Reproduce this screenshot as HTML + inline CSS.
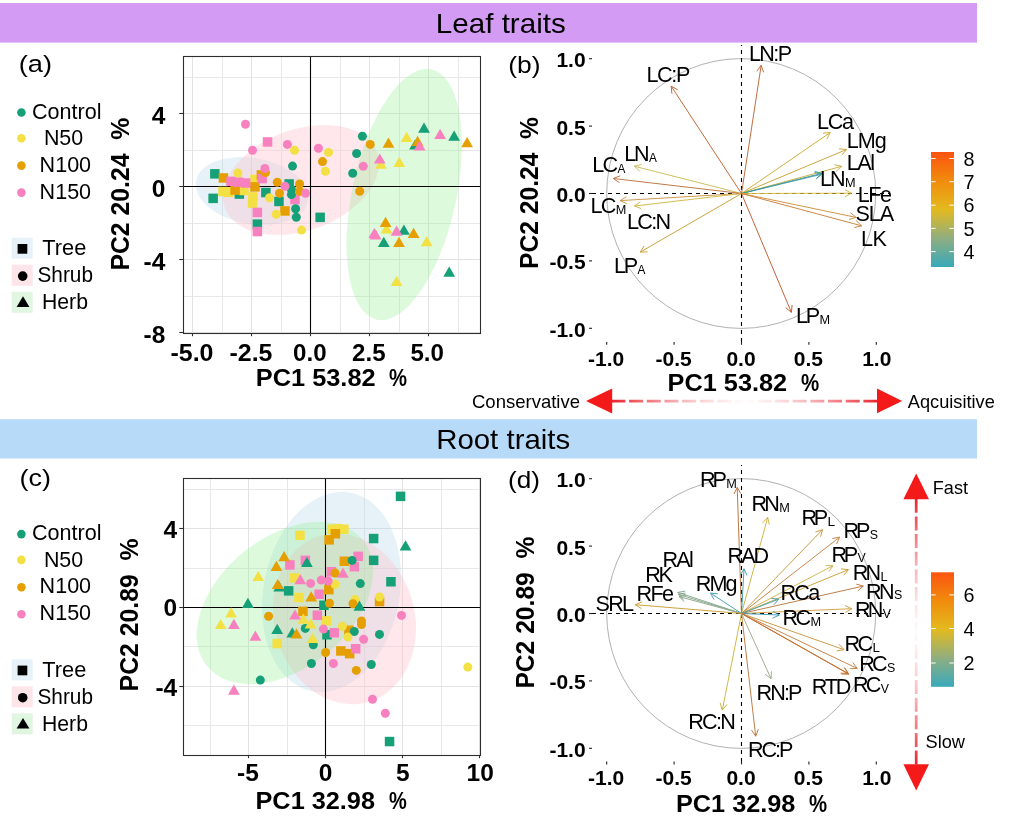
<!DOCTYPE html>
<html><head><meta charset="utf-8"><title>Leaf and root traits PCA</title>
<style>html,body{margin:0;padding:0;background:#fff;}svg{display:block;}text{font-family:"Liberation Sans",sans-serif;}</style>
</head><body>
<svg width="1013" height="821" viewBox="0 0 1013 821" style="will-change:transform">
<rect width="1013" height="821" fill="#fff"/>
<defs>
<linearGradient id="cbar" x1="0" y1="1" x2="0" y2="0"><stop offset="0" stop-color="#38A9BA"/><stop offset="0.25" stop-color="#8FAE80"/><stop offset="0.5" stop-color="#E3BA1F"/><stop offset="0.75" stop-color="#F08C0D"/><stop offset="1" stop-color="#FC5310"/></linearGradient>
<linearGradient id="hfade" x1="612" y1="0" x2="878.5" y2="0" gradientUnits="userSpaceOnUse"><stop offset="0" stop-color="#E8222C"/><stop offset="0.5" stop-color="#F6B0B4" stop-opacity="0.05"/><stop offset="1" stop-color="#E8222C"/></linearGradient>
<linearGradient id="vfade" x1="0" y1="499" x2="0" y2="764.5" gradientUnits="userSpaceOnUse"><stop offset="0" stop-color="#E8222C"/><stop offset="0.5" stop-color="#F6B0B4" stop-opacity="0.05"/><stop offset="1" stop-color="#E8222C"/></linearGradient>
</defs>
<rect x="0" y="3" width="977" height="39.6" fill="#D49BF4"/>
<text x="500.8" y="32.6" font-size="28.5" font-weight="normal" text-anchor="middle" fill="#000" textLength="130.0" lengthAdjust="spacingAndGlyphs" >Leaf traits</text>
<rect x="0" y="419.2" width="977" height="39.3" fill="#B7DAF9"/>
<text x="503.2" y="448.6" font-size="28.5" font-weight="normal" text-anchor="middle" fill="#000" textLength="134.0" lengthAdjust="spacingAndGlyphs" >Root traits</text>
<text x="18.8" y="72.4" font-size="24.5" font-weight="normal" text-anchor="start" fill="#000" textLength="33.3" lengthAdjust="spacingAndGlyphs" >(a)</text>
<circle cx="21.4" cy="112.5" r="4.3" fill="#16A077"/>
<text x="32.0" y="118.5" font-size="21.6" font-weight="normal" text-anchor="start" fill="#000" textLength="69.5" lengthAdjust="spacingAndGlyphs" >Control</text>
<circle cx="21.4" cy="138.3" r="4.3" fill="#F3E044"/>
<text x="43.9" y="145.3" font-size="21.6" font-weight="normal" text-anchor="start" fill="#000" textLength="39.3" lengthAdjust="spacingAndGlyphs" >N50</text>
<circle cx="21.4" cy="165.6" r="4.3" fill="#E69F00"/>
<text x="39.6" y="171.6" font-size="21.6" font-weight="normal" text-anchor="start" fill="#000" textLength="51.5" lengthAdjust="spacingAndGlyphs" >N100</text>
<circle cx="21.4" cy="192.6" r="4.3" fill="#F781BF"/>
<text x="39.6" y="198.6" font-size="21.6" font-weight="normal" text-anchor="start" fill="#000" textLength="51.5" lengthAdjust="spacingAndGlyphs" >N150</text>
<rect x="11.7" y="237.7" width="21" height="21" fill="#E6F2F8"/>
<rect x="17.6" y="244.0" width="9.7" height="9.7" fill="#000"/>
<text x="42.3" y="255.1" font-size="21.6" font-weight="normal" text-anchor="start" fill="#000" textLength="44.0" lengthAdjust="spacingAndGlyphs" >Tree</text>
<rect x="11.7" y="264.7" width="21" height="21" fill="#FDE5EA"/>
<circle cx="22.7" cy="276.1" r="4.8" fill="#000"/>
<text x="37.5" y="282.1" font-size="21.6" font-weight="normal" text-anchor="start" fill="#000" textLength="55.5" lengthAdjust="spacingAndGlyphs" >Shrub</text>
<rect x="11.7" y="291.8" width="21" height="21" fill="#E1F6E1"/>
<path d="M23.0 296.3L29.4 306.9L16.6 306.9Z" fill="#000"/>
<text x="42.0" y="309.2" font-size="21.6" font-weight="normal" text-anchor="start" fill="#000" textLength="46.0" lengthAdjust="spacingAndGlyphs" >Herb</text>
<clipPath id="clipA"><rect x="183.5" y="56.5" width="297.0" height="277.0"/></clipPath>
<rect x="183.5" y="56.5" width="297.0" height="277.0" fill="#fff"/>
<line x1="222.5" x2="222.5" y1="56.5" y2="333.5" stroke="#E8E8E8" stroke-width="1"/>
<line x1="281.5" x2="281.5" y1="56.5" y2="333.5" stroke="#E8E8E8" stroke-width="1"/>
<line x1="340.5" x2="340.5" y1="56.5" y2="333.5" stroke="#E8E8E8" stroke-width="1"/>
<line x1="399.5" x2="399.5" y1="56.5" y2="333.5" stroke="#E8E8E8" stroke-width="1"/>
<line x1="458.5" x2="458.5" y1="56.5" y2="333.5" stroke="#E8E8E8" stroke-width="1"/>
<line x1="183.5" x2="480.5" y1="77.5" y2="77.5" stroke="#E8E8E8" stroke-width="1"/>
<line x1="183.5" x2="480.5" y1="150.5" y2="150.5" stroke="#E8E8E8" stroke-width="1"/>
<line x1="183.5" x2="480.5" y1="223.5" y2="223.5" stroke="#E8E8E8" stroke-width="1"/>
<line x1="183.5" x2="480.5" y1="296.5" y2="296.5" stroke="#E8E8E8" stroke-width="1"/>
<line x1="192.5" x2="192.5" y1="56.5" y2="333.5" stroke="#E3E3E3" stroke-width="1"/>
<line x1="251.5" x2="251.5" y1="56.5" y2="333.5" stroke="#E3E3E3" stroke-width="1"/>
<line x1="310.5" x2="310.5" y1="56.5" y2="333.5" stroke="#E3E3E3" stroke-width="1"/>
<line x1="369.5" x2="369.5" y1="56.5" y2="333.5" stroke="#E3E3E3" stroke-width="1"/>
<line x1="428.5" x2="428.5" y1="56.5" y2="333.5" stroke="#E3E3E3" stroke-width="1"/>
<line x1="183.5" x2="480.5" y1="113.5" y2="113.5" stroke="#E3E3E3" stroke-width="1"/>
<line x1="183.5" x2="480.5" y1="186.5" y2="186.5" stroke="#E3E3E3" stroke-width="1"/>
<line x1="183.5" x2="480.5" y1="259.5" y2="259.5" stroke="#E3E3E3" stroke-width="1"/>
<line x1="183.5" x2="480.5" y1="332.5" y2="332.5" stroke="#E3E3E3" stroke-width="1"/>
<g clip-path="url(#clipA)">
<ellipse cx="252" cy="191" rx="57" ry="33" transform="rotate(10 252 191)" fill="rgba(173,212,232,0.30)"/>
<ellipse cx="301" cy="180" rx="81" ry="50.5" transform="rotate(-20 301 180)" fill="rgba(255,192,203,0.38)"/>
<ellipse cx="404.2" cy="194.5" rx="52" ry="128.1" transform="rotate(12.3 404.2 194.5)" fill="rgba(144,238,144,0.30)"/>
</g>
<line x1="183.5" x2="480.5" y1="186.5" y2="186.5" stroke="#000" stroke-width="1.1"/>
<line x1="310.5" x2="310.5" y1="56.5" y2="333.5" stroke="#000" stroke-width="1.1"/>
<rect x="210.1" y="169.1" width="9.5" height="9.5" fill="#16A077"/>
<rect x="234.6" y="189.3" width="9.5" height="9.5" fill="#16A077"/>
<rect x="208.4" y="193.6" width="9.5" height="9.5" fill="#16A077"/>
<rect x="261.1" y="187.8" width="9.5" height="9.5" fill="#16A077"/>
<rect x="284.4" y="179.2" width="9.5" height="9.5" fill="#16A077"/>
<rect x="274.2" y="196.7" width="9.5" height="9.5" fill="#16A077"/>
<rect x="252.6" y="219.4" width="9.5" height="9.5" fill="#16A077"/>
<rect x="315.4" y="212.6" width="9.5" height="9.5" fill="#16A077"/>
<rect x="250.2" y="174.8" width="9.5" height="9.5" fill="#F3E044"/>
<rect x="218.2" y="186.7" width="9.5" height="9.5" fill="#F3E044"/>
<rect x="223.7" y="187.6" width="9.5" height="9.5" fill="#F3E044"/>
<rect x="239.2" y="185.7" width="9.5" height="9.5" fill="#F3E044"/>
<rect x="248.2" y="192.1" width="9.5" height="9.5" fill="#F3E044"/>
<rect x="247.8" y="198.4" width="9.5" height="9.5" fill="#F3E044"/>
<rect x="218.7" y="173.2" width="9.5" height="9.5" fill="#E69F00"/>
<rect x="256.6" y="170.2" width="9.5" height="9.5" fill="#E69F00"/>
<rect x="250.2" y="182.1" width="9.5" height="9.5" fill="#E69F00"/>
<rect x="230.3" y="185.3" width="9.5" height="9.5" fill="#E69F00"/>
<rect x="280.2" y="206.2" width="9.5" height="9.5" fill="#E69F00"/>
<rect x="262.8" y="137.2" width="9.5" height="9.5" fill="#F781BF"/>
<rect x="257.4" y="173.8" width="9.5" height="9.5" fill="#F781BF"/>
<rect x="226.3" y="176.6" width="9.5" height="9.5" fill="#F781BF"/>
<rect x="233.7" y="177.4" width="9.5" height="9.5" fill="#F781BF"/>
<rect x="240.9" y="178.3" width="9.5" height="9.5" fill="#F781BF"/>
<rect x="290.2" y="194.8" width="9.5" height="9.5" fill="#F781BF"/>
<rect x="252.6" y="207.7" width="9.5" height="9.5" fill="#F781BF"/>
<rect x="252.6" y="226.8" width="9.5" height="9.5" fill="#F781BF"/>
<circle cx="292.5" cy="166.1" r="4.5" fill="#16A077"/>
<circle cx="291.4" cy="189.5" r="4.5" fill="#16A077"/>
<circle cx="291.4" cy="194.6" r="4.5" fill="#16A077"/>
<circle cx="295.6" cy="208.7" r="4.5" fill="#16A077"/>
<circle cx="296.3" cy="217.3" r="4.5" fill="#16A077"/>
<circle cx="362.4" cy="136.2" r="4.5" fill="#16A077"/>
<circle cx="356.6" cy="153.5" r="4.5" fill="#16A077"/>
<circle cx="352.7" cy="173.3" r="4.5" fill="#16A077"/>
<circle cx="294.5" cy="150.2" r="4.5" fill="#F3E044"/>
<circle cx="328.5" cy="152.4" r="4.5" fill="#F3E044"/>
<circle cx="325.4" cy="171.3" r="4.5" fill="#F3E044"/>
<circle cx="237.9" cy="173.1" r="4.5" fill="#F3E044"/>
<circle cx="269.5" cy="197.8" r="4.5" fill="#F3E044"/>
<circle cx="276.2" cy="214.2" r="4.5" fill="#F3E044"/>
<circle cx="301.5" cy="230.1" r="4.5" fill="#F3E044"/>
<circle cx="322.5" cy="161.6" r="4.5" fill="#E69F00"/>
<circle cx="265.5" cy="172.6" r="4.5" fill="#E69F00"/>
<circle cx="277.3" cy="182.2" r="4.5" fill="#E69F00"/>
<circle cx="279.5" cy="193.2" r="4.5" fill="#E69F00"/>
<circle cx="299.6" cy="184.0" r="4.5" fill="#E69F00"/>
<circle cx="299.6" cy="191.4" r="4.5" fill="#E69F00"/>
<circle cx="370.3" cy="144.4" r="4.5" fill="#E69F00"/>
<circle cx="359.7" cy="191.2" r="4.5" fill="#E69F00"/>
<circle cx="245.5" cy="124.3" r="4.5" fill="#F781BF"/>
<circle cx="287.4" cy="144.4" r="4.5" fill="#F781BF"/>
<circle cx="252.5" cy="150.2" r="4.5" fill="#F781BF"/>
<circle cx="318.4" cy="148.2" r="4.5" fill="#F781BF"/>
<circle cx="264.9" cy="168.5" r="4.5" fill="#F781BF"/>
<circle cx="285.0" cy="186.2" r="4.5" fill="#F781BF"/>
<circle cx="305.5" cy="193.2" r="4.5" fill="#F781BF"/>
<circle cx="363.3" cy="166.3" r="4.5" fill="#F781BF"/>
<path d="M415.1 139.4L421.0 149.6L409.2 149.6Z" fill="#16A077"/>
<path d="M424.0 122.6L429.9 132.8L418.1 132.8Z" fill="#16A077"/>
<path d="M454.1 130.6L460.0 140.8L448.2 140.8Z" fill="#16A077"/>
<path d="M403.9 224.6L409.8 234.8L398.0 234.8Z" fill="#16A077"/>
<path d="M383.8 236.8L389.7 247.0L377.9 247.0Z" fill="#16A077"/>
<path d="M449.2 266.6L455.1 276.8L443.3 276.8Z" fill="#16A077"/>
<path d="M406.6 131.7L412.5 141.9L400.7 141.9Z" fill="#F3E044"/>
<path d="M381.0 158.5L386.9 168.7L375.1 168.7Z" fill="#F3E044"/>
<path d="M399.3 156.7L405.2 166.9L393.4 166.9Z" fill="#F3E044"/>
<path d="M386.5 223.3L392.4 233.5L380.6 233.5Z" fill="#F3E044"/>
<path d="M426.7 236.1L432.6 246.3L420.8 246.3Z" fill="#F3E044"/>
<path d="M396.6 275.8L402.5 286.0L390.7 286.0Z" fill="#F3E044"/>
<path d="M388.5 137.5L394.4 147.7L382.6 147.7Z" fill="#E69F00"/>
<path d="M417.6 135.7L423.5 145.9L411.7 145.9Z" fill="#E69F00"/>
<path d="M467.1 137.0L473.0 147.2L461.2 147.2Z" fill="#E69F00"/>
<path d="M385.6 216.7L391.5 226.9L379.7 226.9Z" fill="#E69F00"/>
<path d="M413.6 227.7L419.5 237.9L407.7 237.9Z" fill="#E69F00"/>
<path d="M399.0 236.8L404.9 247.0L393.1 247.0Z" fill="#E69F00"/>
<path d="M419.6 140.3L425.5 150.5L413.7 150.5Z" fill="#F781BF"/>
<path d="M440.1 128.8L446.0 139.0L434.2 139.0Z" fill="#F781BF"/>
<path d="M379.8 153.4L385.7 163.6L373.9 163.6Z" fill="#F781BF"/>
<path d="M374.3 227.9L380.2 238.1L368.4 238.1Z" fill="#F781BF"/>
<path d="M375.6 229.2L381.5 239.4L369.7 239.4Z" fill="#F781BF"/>
<path d="M396.6 225.5L402.5 235.7L390.7 235.7Z" fill="#F781BF"/>
<rect x="183.5" y="56.5" width="297.0" height="277.0" fill="none" stroke="#2E2E2E" stroke-width="1.1"/>
<line x1="192.5" x2="192.5" y1="333.5" y2="336.2" stroke="#2E2E2E" stroke-width="1.1"/>
<line x1="251.5" x2="251.5" y1="333.5" y2="336.2" stroke="#2E2E2E" stroke-width="1.1"/>
<line x1="310.5" x2="310.5" y1="333.5" y2="336.2" stroke="#2E2E2E" stroke-width="1.1"/>
<line x1="369.5" x2="369.5" y1="333.5" y2="336.2" stroke="#2E2E2E" stroke-width="1.1"/>
<line x1="428.5" x2="428.5" y1="333.5" y2="336.2" stroke="#2E2E2E" stroke-width="1.1"/>
<line x1="179.3" x2="183.5" y1="113.5" y2="113.5" stroke="#2E2E2E" stroke-width="1.1"/>
<line x1="179.3" x2="183.5" y1="186.5" y2="186.5" stroke="#2E2E2E" stroke-width="1.1"/>
<line x1="179.3" x2="183.5" y1="259.5" y2="259.5" stroke="#2E2E2E" stroke-width="1.1"/>
<line x1="179.3" x2="183.5" y1="332.5" y2="332.5" stroke="#2E2E2E" stroke-width="1.1"/>
<text x="165.3" y="123.5" font-size="24.5" font-weight="bold" text-anchor="end" fill="#000" >4</text>
<text x="165.3" y="197.0" font-size="24.5" font-weight="bold" text-anchor="end" fill="#000" >0</text>
<text x="165.3" y="270.0" font-size="24.5" font-weight="bold" text-anchor="end" fill="#000" >-4</text>
<text x="165.3" y="342.9" font-size="24.5" font-weight="bold" text-anchor="end" fill="#000" >-8</text>
<text x="192.0" y="360.8" font-size="24.5" font-weight="bold" text-anchor="middle" fill="#000" textLength="43.0" lengthAdjust="spacingAndGlyphs" >-5.0</text>
<text x="251.0" y="360.8" font-size="24.5" font-weight="bold" text-anchor="middle" fill="#000" textLength="43.0" lengthAdjust="spacingAndGlyphs" >-2.5</text>
<text x="309.8" y="360.8" font-size="24.5" font-weight="bold" text-anchor="middle" fill="#000" textLength="33.5" lengthAdjust="spacingAndGlyphs" >0.0</text>
<text x="368.8" y="360.8" font-size="24.5" font-weight="bold" text-anchor="middle" fill="#000" textLength="33.5" lengthAdjust="spacingAndGlyphs" >2.5</text>
<text x="427.2" y="360.8" font-size="24.5" font-weight="bold" text-anchor="middle" fill="#000" textLength="33.5" lengthAdjust="spacingAndGlyphs" >5.0</text>
<text x="255.8" y="385.7" font-size="24.5" font-weight="bold" text-anchor="start" fill="#000" textLength="119.8" lengthAdjust="spacingAndGlyphs" >PC1 53.82</text>
<text x="389.0" y="385.7" font-size="24.5" font-weight="bold" text-anchor="start" fill="#000" textLength="18.0" lengthAdjust="spacingAndGlyphs" >%</text>
<text transform="translate(128.8,270.6) rotate(-90)" font-size="25.8" font-weight="bold" textLength="153.0" lengthAdjust="spacingAndGlyphs">PC2 20.24&#160;&#160;%</text>
<text x="19.4" y="486.4" font-size="24.5" font-weight="normal" text-anchor="start" fill="#000" textLength="31.5" lengthAdjust="spacingAndGlyphs" >(c)</text>
<circle cx="21.4" cy="534.1" r="4.3" fill="#16A077"/>
<text x="32.0" y="540.1" font-size="21.6" font-weight="normal" text-anchor="start" fill="#000" textLength="69.5" lengthAdjust="spacingAndGlyphs" >Control</text>
<circle cx="21.4" cy="559.9" r="4.3" fill="#F3E044"/>
<text x="43.9" y="566.9" font-size="21.6" font-weight="normal" text-anchor="start" fill="#000" textLength="39.3" lengthAdjust="spacingAndGlyphs" >N50</text>
<circle cx="21.4" cy="587.2" r="4.3" fill="#E69F00"/>
<text x="39.6" y="593.2" font-size="21.6" font-weight="normal" text-anchor="start" fill="#000" textLength="51.5" lengthAdjust="spacingAndGlyphs" >N100</text>
<circle cx="21.4" cy="614.2" r="4.3" fill="#F781BF"/>
<text x="39.6" y="620.2" font-size="21.6" font-weight="normal" text-anchor="start" fill="#000" textLength="51.5" lengthAdjust="spacingAndGlyphs" >N150</text>
<rect x="11.7" y="659.3" width="21" height="21" fill="#E6F2F8"/>
<rect x="17.6" y="665.6" width="9.7" height="9.7" fill="#000"/>
<text x="42.3" y="676.7" font-size="21.6" font-weight="normal" text-anchor="start" fill="#000" textLength="44.0" lengthAdjust="spacingAndGlyphs" >Tree</text>
<rect x="11.7" y="686.3" width="21" height="21" fill="#FDE5EA"/>
<circle cx="22.7" cy="697.7" r="4.8" fill="#000"/>
<text x="37.5" y="703.7" font-size="21.6" font-weight="normal" text-anchor="start" fill="#000" textLength="55.5" lengthAdjust="spacingAndGlyphs" >Shrub</text>
<rect x="11.7" y="713.4" width="21" height="21" fill="#E1F6E1"/>
<path d="M23.0 717.9L29.4 728.5L16.6 728.5Z" fill="#000"/>
<text x="42.0" y="730.8" font-size="21.6" font-weight="normal" text-anchor="start" fill="#000" textLength="46.0" lengthAdjust="spacingAndGlyphs" >Herb</text>
<clipPath id="clipC"><rect x="183.5" y="478.5" width="297.0" height="277.0"/></clipPath>
<rect x="183.5" y="478.5" width="297.0" height="277.0" fill="#fff"/>
<line x1="210.5" x2="210.5" y1="478.5" y2="755.5" stroke="#E8E8E8" stroke-width="1"/>
<line x1="287.5" x2="287.5" y1="478.5" y2="755.5" stroke="#E8E8E8" stroke-width="1"/>
<line x1="364.5" x2="364.5" y1="478.5" y2="755.5" stroke="#E8E8E8" stroke-width="1"/>
<line x1="441.5" x2="441.5" y1="478.5" y2="755.5" stroke="#E8E8E8" stroke-width="1"/>
<line x1="183.5" x2="480.5" y1="489.5" y2="489.5" stroke="#E8E8E8" stroke-width="1"/>
<line x1="183.5" x2="480.5" y1="568.5" y2="568.5" stroke="#E8E8E8" stroke-width="1"/>
<line x1="183.5" x2="480.5" y1="646.5" y2="646.5" stroke="#E8E8E8" stroke-width="1"/>
<line x1="183.5" x2="480.5" y1="725.5" y2="725.5" stroke="#E8E8E8" stroke-width="1"/>
<line x1="248.5" x2="248.5" y1="478.5" y2="755.5" stroke="#E3E3E3" stroke-width="1"/>
<line x1="325.5" x2="325.5" y1="478.5" y2="755.5" stroke="#E3E3E3" stroke-width="1"/>
<line x1="402.5" x2="402.5" y1="478.5" y2="755.5" stroke="#E3E3E3" stroke-width="1"/>
<line x1="479.5" x2="479.5" y1="478.5" y2="755.5" stroke="#E3E3E3" stroke-width="1"/>
<line x1="183.5" x2="480.5" y1="528.5" y2="528.5" stroke="#E3E3E3" stroke-width="1"/>
<line x1="183.5" x2="480.5" y1="607.5" y2="607.5" stroke="#E3E3E3" stroke-width="1"/>
<line x1="183.5" x2="480.5" y1="686.5" y2="686.5" stroke="#E3E3E3" stroke-width="1"/>
<g clip-path="url(#clipC)">
<ellipse cx="331.5" cy="592.0" rx="68" ry="101.2" transform="rotate(11 331.5 592.0)" fill="rgba(173,212,232,0.30)"/>
<ellipse cx="344.4" cy="618.9" rx="70.2" ry="86.5" transform="rotate(-16 344.4 618.9)" fill="rgba(255,192,203,0.38)"/>
<ellipse cx="284.9" cy="603" rx="100.3" ry="65.6" transform="rotate(-39 284.9 603)" fill="rgba(144,238,144,0.30)"/>
</g>
<line x1="183.5" x2="480.5" y1="607.5" y2="607.5" stroke="#000" stroke-width="1.1"/>
<line x1="325.5" x2="325.5" y1="478.5" y2="755.5" stroke="#000" stroke-width="1.1"/>
<rect x="283.9" y="586.1" width="9.5" height="9.5" fill="#16A077"/>
<rect x="319.2" y="600.5" width="9.5" height="9.5" fill="#16A077"/>
<rect x="395.8" y="491.6" width="9.5" height="9.5" fill="#16A077"/>
<rect x="368.9" y="533.8" width="9.5" height="9.5" fill="#16A077"/>
<rect x="368.9" y="555.6" width="9.5" height="9.5" fill="#16A077"/>
<rect x="386.2" y="577.0" width="9.5" height="9.5" fill="#16A077"/>
<rect x="322.2" y="630.0" width="9.5" height="9.5" fill="#16A077"/>
<rect x="384.8" y="736.8" width="9.5" height="9.5" fill="#16A077"/>
<rect x="295.2" y="530.6" width="9.5" height="9.5" fill="#F3E044"/>
<rect x="327.6" y="524.5" width="9.5" height="9.5" fill="#F3E044"/>
<rect x="339.1" y="524.5" width="9.5" height="9.5" fill="#F3E044"/>
<rect x="333.2" y="523.9" width="9.5" height="9.5" fill="#F3E044"/>
<rect x="289.6" y="573.2" width="9.5" height="9.5" fill="#F3E044"/>
<rect x="294.2" y="592.8" width="9.5" height="9.5" fill="#F3E044"/>
<rect x="321.6" y="616.1" width="9.5" height="9.5" fill="#F3E044"/>
<rect x="272.4" y="638.8" width="9.5" height="9.5" fill="#F3E044"/>
<rect x="324.4" y="535.1" width="9.5" height="9.5" fill="#E69F00"/>
<rect x="330.6" y="529.0" width="9.5" height="9.5" fill="#E69F00"/>
<rect x="324.1" y="584.9" width="9.5" height="9.5" fill="#E69F00"/>
<rect x="298.2" y="606.6" width="9.5" height="9.5" fill="#E69F00"/>
<rect x="339.6" y="556.5" width="9.5" height="9.5" fill="#E69F00"/>
<rect x="374.8" y="596.8" width="9.5" height="9.5" fill="#E69F00"/>
<rect x="336.1" y="646.2" width="9.5" height="9.5" fill="#E69F00"/>
<rect x="344.2" y="625.5" width="9.5" height="9.5" fill="#E69F00"/>
<rect x="344.9" y="648.9" width="9.5" height="9.5" fill="#E69F00"/>
<rect x="285.2" y="560.2" width="9.5" height="9.5" fill="#F781BF"/>
<rect x="300.6" y="555.6" width="9.5" height="9.5" fill="#F781BF"/>
<rect x="326.6" y="567.0" width="9.5" height="9.5" fill="#F781BF"/>
<rect x="314.4" y="589.5" width="9.5" height="9.5" fill="#F781BF"/>
<rect x="312.6" y="610.5" width="9.5" height="9.5" fill="#F781BF"/>
<rect x="353.4" y="551.6" width="9.5" height="9.5" fill="#F781BF"/>
<rect x="349.6" y="562.0" width="9.5" height="9.5" fill="#F781BF"/>
<rect x="329.6" y="628.0" width="9.5" height="9.5" fill="#F781BF"/>
<rect x="350.9" y="644.0" width="9.5" height="9.5" fill="#F781BF"/>
<circle cx="352.1" cy="560.4" r="4.5" fill="#16A077"/>
<circle cx="360.3" cy="583.6" r="4.5" fill="#16A077"/>
<circle cx="305.3" cy="628.4" r="4.5" fill="#16A077"/>
<circle cx="313.3" cy="644.8" r="4.5" fill="#16A077"/>
<circle cx="311.4" cy="663.5" r="4.5" fill="#16A077"/>
<circle cx="260.3" cy="680.1" r="4.5" fill="#16A077"/>
<circle cx="379.5" cy="634.4" r="4.5" fill="#16A077"/>
<circle cx="354.3" cy="631.5" r="4.5" fill="#16A077"/>
<circle cx="371.3" cy="664.5" r="4.5" fill="#16A077"/>
<circle cx="335.0" cy="584.3" r="4.5" fill="#F3E044"/>
<circle cx="354.9" cy="599.4" r="4.5" fill="#F3E044"/>
<circle cx="379.5" cy="597.0" r="4.5" fill="#F3E044"/>
<circle cx="342.4" cy="626.2" r="4.5" fill="#F3E044"/>
<circle cx="347.9" cy="637.1" r="4.5" fill="#F3E044"/>
<circle cx="467.8" cy="667.1" r="4.5" fill="#F3E044"/>
<circle cx="335.0" cy="573.0" r="4.5" fill="#E69F00"/>
<circle cx="329.5" cy="603.3" r="4.5" fill="#E69F00"/>
<circle cx="268.6" cy="616.3" r="4.5" fill="#E69F00"/>
<circle cx="353.0" cy="603.8" r="4.5" fill="#E69F00"/>
<circle cx="361.5" cy="621.0" r="4.5" fill="#E69F00"/>
<circle cx="361.5" cy="624.5" r="4.5" fill="#E69F00"/>
<circle cx="325.6" cy="652.5" r="4.5" fill="#E69F00"/>
<circle cx="356.3" cy="670.4" r="4.5" fill="#E69F00"/>
<circle cx="310.6" cy="583.4" r="4.5" fill="#F781BF"/>
<circle cx="321.2" cy="580.1" r="4.5" fill="#F781BF"/>
<circle cx="328.2" cy="581.0" r="4.5" fill="#F781BF"/>
<circle cx="401.5" cy="615.4" r="4.5" fill="#F781BF"/>
<circle cx="323.4" cy="629.1" r="4.5" fill="#F781BF"/>
<circle cx="333.4" cy="663.5" r="4.5" fill="#F781BF"/>
<circle cx="363.6" cy="639.3" r="4.5" fill="#F781BF"/>
<circle cx="372.5" cy="699.3" r="4.5" fill="#F781BF"/>
<circle cx="385.3" cy="713.3" r="4.5" fill="#F781BF"/>
<path d="M306.9 556.8L312.8 567.0L301.0 567.0Z" fill="#16A077"/>
<path d="M279.2 581.3L285.1 591.5L273.3 591.5Z" fill="#16A077"/>
<path d="M247.9 597.7L253.8 607.9L242.0 607.9Z" fill="#16A077"/>
<path d="M405.5 540.2L411.4 550.4L399.6 550.4Z" fill="#16A077"/>
<path d="M359.4 600.5L365.3 610.7L353.5 610.7Z" fill="#16A077"/>
<path d="M277.2 623.7L283.1 633.9L271.3 633.9Z" fill="#16A077"/>
<path d="M292.3 627.3L298.2 637.5L286.4 637.5Z" fill="#16A077"/>
<path d="M258.2 570.9L264.1 581.1L252.3 581.1Z" fill="#F3E044"/>
<path d="M231.1 607.2L237.0 617.4L225.2 617.4Z" fill="#F3E044"/>
<path d="M220.7 618.9L226.6 629.1L214.8 629.1Z" fill="#F3E044"/>
<path d="M303.3 613.6L309.2 623.8L297.4 623.8Z" fill="#F3E044"/>
<path d="M310.6 618.2L316.5 628.4L304.7 628.4Z" fill="#F3E044"/>
<path d="M312.6 632.8L318.5 643.0L306.7 643.0Z" fill="#F3E044"/>
<path d="M284.1 551.1L290.0 561.3L278.2 561.3Z" fill="#E69F00"/>
<path d="M276.4 560.8L282.3 571.0L270.5 571.0Z" fill="#E69F00"/>
<path d="M277.7 578.9L283.6 589.1L271.8 589.1Z" fill="#E69F00"/>
<path d="M311.2 591.3L317.1 601.5L305.3 601.5Z" fill="#E69F00"/>
<path d="M296.5 628.3L302.4 638.5L290.6 638.5Z" fill="#E69F00"/>
<path d="M300.3 574.0L306.2 584.2L294.4 584.2Z" fill="#F781BF"/>
<path d="M295.0 609.4L300.9 619.6L289.1 619.6Z" fill="#F781BF"/>
<path d="M233.9 618.8L239.8 629.0L228.0 629.0Z" fill="#F781BF"/>
<path d="M343.0 567.6L348.9 577.8L337.1 577.8Z" fill="#F781BF"/>
<path d="M233.9 684.5L239.8 694.7L228.0 694.7Z" fill="#F781BF"/>
<path d="M255.4 630.6L261.3 640.8L249.5 640.8Z" fill="#F781BF"/>
<rect x="183.5" y="478.5" width="297.0" height="277.0" fill="none" stroke="#2E2E2E" stroke-width="1.1"/>
<line x1="248.5" x2="248.5" y1="755.5" y2="758.2" stroke="#2E2E2E" stroke-width="1.1"/>
<line x1="325.5" x2="325.5" y1="755.5" y2="758.2" stroke="#2E2E2E" stroke-width="1.1"/>
<line x1="402.5" x2="402.5" y1="755.5" y2="758.2" stroke="#2E2E2E" stroke-width="1.1"/>
<line x1="479.5" x2="479.5" y1="755.5" y2="758.2" stroke="#2E2E2E" stroke-width="1.1"/>
<line x1="179.3" x2="183.5" y1="528.5" y2="528.5" stroke="#2E2E2E" stroke-width="1.1"/>
<line x1="179.3" x2="183.5" y1="607.5" y2="607.5" stroke="#2E2E2E" stroke-width="1.1"/>
<line x1="179.3" x2="183.5" y1="686.5" y2="686.5" stroke="#2E2E2E" stroke-width="1.1"/>
<text x="177.2" y="537.7" font-size="24.5" font-weight="bold" text-anchor="end" fill="#000" >4</text>
<text x="177.2" y="615.6" font-size="24.5" font-weight="bold" text-anchor="end" fill="#000" >0</text>
<text x="177.2" y="695.6" font-size="24.5" font-weight="bold" text-anchor="end" fill="#000" >-4</text>
<text x="248.0" y="781.0" font-size="24.5" font-weight="bold" text-anchor="middle" fill="#000" >-5</text>
<text x="325.6" y="781.0" font-size="24.5" font-weight="bold" text-anchor="middle" fill="#000" >0</text>
<text x="402.8" y="781.0" font-size="24.5" font-weight="bold" text-anchor="middle" fill="#000" >5</text>
<text x="480.2" y="781.0" font-size="24.5" font-weight="bold" text-anchor="middle" fill="#000" >10</text>
<text x="255.5" y="809.0" font-size="24.5" font-weight="bold" text-anchor="start" fill="#000" textLength="119.5" lengthAdjust="spacingAndGlyphs" >PC1 32.98</text>
<text x="389.0" y="809.0" font-size="24.5" font-weight="bold" text-anchor="start" fill="#000" textLength="17.8" lengthAdjust="spacingAndGlyphs" >%</text>
<text transform="translate(138.0,691.4) rotate(-90)" font-size="25.8" font-weight="bold" textLength="153.0" lengthAdjust="spacingAndGlyphs">PC2 20.89&#160;&#160;%</text>
<text x="508.2" y="72.7" font-size="24.5" font-weight="normal" text-anchor="start" fill="#000" textLength="32.3" lengthAdjust="spacingAndGlyphs" >(b)</text>
<ellipse cx="741.2" cy="193.5" rx="134.5" ry="134.9" fill="none" stroke="#B2B2B2" stroke-width="1"/>
<line x1="592" x2="890" y1="193.5" y2="193.5" stroke="#000" stroke-width="1.1" stroke-dasharray="4 4"/>
<line x1="741.5" x2="741.5" y1="342" y2="45" stroke="#000" stroke-width="1.1" stroke-dasharray="4 4"/>
<line x1="589.0" x2="592.0" y1="58.7" y2="58.7" stroke="#222" stroke-width="1.1"/>
<text x="585.6" y="67.1" font-size="21" font-weight="bold" text-anchor="end" fill="#000" >1.0</text>
<line x1="589.0" x2="592.0" y1="126.1" y2="126.1" stroke="#222" stroke-width="1.1"/>
<text x="585.6" y="134.5" font-size="21" font-weight="bold" text-anchor="end" fill="#000" >0.5</text>
<line x1="589.0" x2="592.0" y1="193.5" y2="193.5" stroke="#222" stroke-width="1.1"/>
<text x="585.6" y="201.9" font-size="21" font-weight="bold" text-anchor="end" fill="#000" >0.0</text>
<line x1="589.0" x2="592.0" y1="260.9" y2="260.9" stroke="#222" stroke-width="1.1"/>
<text x="585.6" y="269.3" font-size="21" font-weight="bold" text-anchor="end" fill="#000" >-0.5</text>
<line x1="589.0" x2="592.0" y1="328.3" y2="328.3" stroke="#222" stroke-width="1.1"/>
<text x="585.6" y="336.7" font-size="21" font-weight="bold" text-anchor="end" fill="#000" >-1.0</text>
<line x1="606.7" x2="606.7" y1="342.0" y2="344.8" stroke="#222" stroke-width="1.1"/>
<text x="606.2" y="365.6" font-size="21" font-weight="bold" text-anchor="middle" fill="#000" >-1.0</text>
<line x1="674.1" x2="674.1" y1="342.0" y2="344.8" stroke="#222" stroke-width="1.1"/>
<text x="673.6" y="365.6" font-size="21" font-weight="bold" text-anchor="middle" fill="#000" >-0.5</text>
<line x1="741.5" x2="741.5" y1="342.0" y2="344.8" stroke="#222" stroke-width="1.1"/>
<text x="741.0" y="365.6" font-size="21" font-weight="bold" text-anchor="middle" fill="#000" >0.0</text>
<line x1="808.9" x2="808.9" y1="342.0" y2="344.8" stroke="#222" stroke-width="1.1"/>
<text x="808.4" y="365.6" font-size="21" font-weight="bold" text-anchor="middle" fill="#000" >0.5</text>
<line x1="876.3" x2="876.3" y1="342.0" y2="344.8" stroke="#222" stroke-width="1.1"/>
<text x="876.8" y="365.6" font-size="21" font-weight="bold" text-anchor="middle" fill="#000" >1.0</text>
<line x1="741.5" y1="193.5" x2="671.2" y2="86.2" stroke="#C0622F" stroke-width="0.95"/>
<polyline points="677.7,89.8 671.2,86.2 671.9,93.6" fill="none" stroke="#C0622F" stroke-width="0.95"/>
<line x1="741.5" y1="193.5" x2="761.2" y2="65.3" stroke="#BC6637" stroke-width="0.95"/>
<polyline points="763.6,72.3 761.2,65.3 756.8,71.2" fill="none" stroke="#BC6637" stroke-width="0.95"/>
<line x1="741.5" y1="193.5" x2="634.3" y2="166.2" stroke="#CCBC55" stroke-width="0.95"/>
<polyline points="641.5,164.4 634.3,166.2 639.8,171.2" fill="none" stroke="#CCBC55" stroke-width="0.95"/>
<line x1="741.5" y1="193.5" x2="613.4" y2="178.5" stroke="#BD713F" stroke-width="0.95"/>
<polyline points="620.3,175.8 613.4,178.5 619.5,182.7" fill="none" stroke="#BD713F" stroke-width="0.95"/>
<line x1="741.5" y1="193.5" x2="620.1" y2="200.6" stroke="#C99448" stroke-width="0.95"/>
<polyline points="626.4,196.8 620.1,200.6 626.8,203.7" fill="none" stroke="#C99448" stroke-width="0.95"/>
<line x1="741.5" y1="193.5" x2="634.4" y2="206.0" stroke="#D0B84B" stroke-width="0.95"/>
<polyline points="640.5,201.8 634.4,206.0 641.3,208.7" fill="none" stroke="#D0B84B" stroke-width="0.95"/>
<line x1="741.5" y1="193.5" x2="640.3" y2="252.1" stroke="#C99F31" stroke-width="0.95"/>
<polyline points="644.2,245.8 640.3,252.1 647.7,251.8" fill="none" stroke="#C99F31" stroke-width="0.95"/>
<line x1="741.5" y1="193.5" x2="830.3" y2="132.5" stroke="#CDAD34" stroke-width="0.95"/>
<polyline points="826.9,139.1 830.3,132.5 822.9,133.3" fill="none" stroke="#CDAD34" stroke-width="0.95"/>
<line x1="741.5" y1="193.5" x2="846.5" y2="149.5" stroke="#CBA134" stroke-width="0.95"/>
<polyline points="841.8,155.2 846.5,149.5 839.1,148.8" fill="none" stroke="#CBA134" stroke-width="0.95"/>
<line x1="741.5" y1="193.5" x2="841.6" y2="166.3" stroke="#CCAC40" stroke-width="0.95"/>
<polyline points="836.2,171.4 841.6,166.3 834.4,164.7" fill="none" stroke="#CCAC40" stroke-width="0.95"/>
<line x1="741.5" y1="193.5" x2="821.5" y2="174.3" stroke="#549AB6" stroke-width="0.95"/>
<polyline points="816.0,179.2 821.5,174.3 814.3,172.4" fill="none" stroke="#549AB6" stroke-width="0.95"/>
<line x1="741.5" y1="193.5" x2="822.1" y2="173.3" stroke="#379C94" stroke-width="0.95"/>
<polyline points="816.6,178.3 822.1,173.3 814.9,171.5" fill="none" stroke="#379C94" stroke-width="0.95"/>
<line x1="741.5" y1="193.5" x2="851.5" y2="193.2" stroke="#D5BA3E" stroke-width="0.95"/>
<polyline points="845.0,196.7 851.5,193.2 845.0,189.7" fill="none" stroke="#D5BA3E" stroke-width="0.95"/>
<line x1="741.5" y1="193.5" x2="856.1" y2="217.4" stroke="#CD913D" stroke-width="0.95"/>
<polyline points="849.0,219.5 856.1,217.4 850.4,212.7" fill="none" stroke="#CD913D" stroke-width="0.95"/>
<line x1="741.5" y1="193.5" x2="861.6" y2="225.8" stroke="#C9823D" stroke-width="0.95"/>
<polyline points="854.4,227.5 861.6,225.8 856.2,220.7" fill="none" stroke="#C9823D" stroke-width="0.95"/>
<line x1="741.5" y1="193.5" x2="791.4" y2="312.4" stroke="#C15B2F" stroke-width="0.95"/>
<polyline points="785.7,307.7 791.4,312.4 792.1,305.0" fill="none" stroke="#C15B2F" stroke-width="0.95"/>
<text x="646.4" y="82.4" font-size="21.6" font-weight="normal" text-anchor="start" fill="#000" textLength="43.9" lengthAdjust="spacing" >LC:P</text>
<text x="748.9" y="61.4" font-size="21.6" font-weight="normal" text-anchor="start" fill="#000" textLength="43.3" lengthAdjust="spacing" >LN:P</text>
<text x="624.2" y="160.8" font-size="21.6" font-weight="normal" text-anchor="start" fill="#000" textLength="25.5" lengthAdjust="spacing" >LN</text>
<text x="649.1" y="161.6" font-size="12" font-weight="normal" text-anchor="start" fill="#000" textLength="7.9" lengthAdjust="spacingAndGlyphs" >A</text>
<text x="592.2" y="171.7" font-size="21.6" font-weight="normal" text-anchor="start" fill="#000" textLength="25.8" lengthAdjust="spacing" >LC</text>
<text x="617.4" y="172.5" font-size="12" font-weight="normal" text-anchor="start" fill="#000" textLength="7.9" lengthAdjust="spacingAndGlyphs" >A</text>
<text x="590.5" y="213.0" font-size="21.6" font-weight="normal" text-anchor="start" fill="#000" textLength="25.8" lengthAdjust="spacing" >LC</text>
<text x="615.7" y="213.8" font-size="12" font-weight="normal" text-anchor="start" fill="#000" textLength="10.6" lengthAdjust="spacingAndGlyphs" >M</text>
<text x="627.1" y="228.6" font-size="21.6" font-weight="normal" text-anchor="start" fill="#000" textLength="44.0" lengthAdjust="spacing" >LC:N</text>
<text x="613.9" y="272.9" font-size="21.6" font-weight="normal" text-anchor="start" fill="#000" textLength="24.2" lengthAdjust="spacing" >LP</text>
<text x="637.5" y="273.7" font-size="12" font-weight="normal" text-anchor="start" fill="#000" textLength="7.9" lengthAdjust="spacingAndGlyphs" >A</text>
<text x="817.0" y="128.6" font-size="21.6" font-weight="normal" text-anchor="start" fill="#000" textLength="36.9" lengthAdjust="spacing" >LCa</text>
<text x="846.8" y="148.1" font-size="21.6" font-weight="normal" text-anchor="start" fill="#000" textLength="39.9" lengthAdjust="spacing" >LMg</text>
<text x="846.8" y="170.1" font-size="21.6" font-weight="normal" text-anchor="start" fill="#000" textLength="28.2" lengthAdjust="spacing" >LAl</text>
<text x="820.0" y="186.0" font-size="21.6" font-weight="normal" text-anchor="start" fill="#000" textLength="25.5" lengthAdjust="spacing" >LN</text>
<text x="844.9" y="186.8" font-size="12" font-weight="normal" text-anchor="start" fill="#000" textLength="10.6" lengthAdjust="spacingAndGlyphs" >M</text>
<text x="857.8" y="201.7" font-size="21.6" font-weight="normal" text-anchor="start" fill="#000" textLength="34.1" lengthAdjust="spacing" >LFe</text>
<text x="855.6" y="221.4" font-size="21.6" font-weight="normal" text-anchor="start" fill="#000" textLength="38.5" lengthAdjust="spacing" >SLA</text>
<text x="861.0" y="245.5" font-size="21.6" font-weight="normal" text-anchor="start" fill="#000" textLength="25.9" lengthAdjust="spacing" >LK</text>
<text x="795.9" y="323.3" font-size="21.6" font-weight="normal" text-anchor="start" fill="#000" textLength="24.2" lengthAdjust="spacing" >LP</text>
<text x="819.5" y="324.1" font-size="12" font-weight="normal" text-anchor="start" fill="#000" textLength="10.6" lengthAdjust="spacingAndGlyphs" >M</text>
<text x="667.6" y="390.6" font-size="24.5" font-weight="bold" text-anchor="start" fill="#000" textLength="119.6" lengthAdjust="spacingAndGlyphs" >PC1 53.82</text>
<text x="801.1" y="390.6" font-size="24.5" font-weight="bold" text-anchor="start" fill="#000" textLength="18.2" lengthAdjust="spacingAndGlyphs" >%</text>
<text transform="translate(537.9,269.0) rotate(-90)" font-size="25.8" font-weight="bold" textLength="152.0" lengthAdjust="spacingAndGlyphs">PC2 20.24&#160;&#160;%</text>
<rect x="931" y="152" width="23" height="115" fill="url(#cbar)"/>
<line x1="931" x2="935.6" y1="158.5" y2="158.5" stroke="#fff" stroke-width="1"/>
<line x1="949.4" x2="954" y1="158.5" y2="158.5" stroke="#fff" stroke-width="1"/>
<text x="963.4" y="165.7" font-size="19.8" font-weight="normal" text-anchor="start" fill="#000" >8</text>
<line x1="931" x2="935.6" y1="181.7" y2="181.7" stroke="#fff" stroke-width="1"/>
<line x1="949.4" x2="954" y1="181.7" y2="181.7" stroke="#fff" stroke-width="1"/>
<text x="963.4" y="188.9" font-size="19.8" font-weight="normal" text-anchor="start" fill="#000" >7</text>
<line x1="931" x2="935.6" y1="205.2" y2="205.2" stroke="#fff" stroke-width="1"/>
<line x1="949.4" x2="954" y1="205.2" y2="205.2" stroke="#fff" stroke-width="1"/>
<text x="963.4" y="212.4" font-size="19.8" font-weight="normal" text-anchor="start" fill="#000" >6</text>
<line x1="931" x2="935.6" y1="228.4" y2="228.4" stroke="#fff" stroke-width="1"/>
<line x1="949.4" x2="954" y1="228.4" y2="228.4" stroke="#fff" stroke-width="1"/>
<text x="963.4" y="235.6" font-size="19.8" font-weight="normal" text-anchor="start" fill="#000" >5</text>
<line x1="931" x2="935.6" y1="251.6" y2="251.6" stroke="#fff" stroke-width="1"/>
<line x1="949.4" x2="954" y1="251.6" y2="251.6" stroke="#fff" stroke-width="1"/>
<text x="963.4" y="258.8" font-size="19.8" font-weight="normal" text-anchor="start" fill="#000" >4</text>
<path d="M586 401.0L612.2 388.4L612.2 413.4Z" fill="#F41A1A"/>
<path d="M902.2 401.0L877.0 388.6L877.0 413.2Z" fill="#F41A1A"/>
<line x1="611.4" x2="745" y1="401.2" y2="401.2" stroke="url(#hfade)" stroke-width="2.7" stroke-dasharray="14 3.7"/>
<line x1="877.4" x2="745" y1="401.2" y2="401.2" stroke="url(#hfade)" stroke-width="2.7" stroke-dasharray="14 3.7"/>
<text x="472.0" y="408.0" font-size="18.5" font-weight="normal" text-anchor="start" fill="#000" textLength="108.0" lengthAdjust="spacingAndGlyphs" >Conservative</text>
<text x="907.8" y="408.0" font-size="18.5" font-weight="normal" text-anchor="start" fill="#000" textLength="87.0" lengthAdjust="spacingAndGlyphs" >Aqcuisitive</text>
<text x="508.0" y="488.0" font-size="24.5" font-weight="normal" text-anchor="start" fill="#000" textLength="32.0" lengthAdjust="spacingAndGlyphs" >(d)</text>
<ellipse cx="741.2" cy="613.5" rx="134.5" ry="134.9" fill="none" stroke="#B2B2B2" stroke-width="1"/>
<line x1="592" x2="890" y1="613.5" y2="613.5" stroke="#000" stroke-width="1.1" stroke-dasharray="4 4"/>
<line x1="741.5" x2="741.5" y1="762" y2="465" stroke="#000" stroke-width="1.1" stroke-dasharray="4 4"/>
<line x1="589.0" x2="592.0" y1="478.7" y2="478.7" stroke="#222" stroke-width="1.1"/>
<text x="585.6" y="487.1" font-size="21" font-weight="bold" text-anchor="end" fill="#000" >1.0</text>
<line x1="589.0" x2="592.0" y1="546.1" y2="546.1" stroke="#222" stroke-width="1.1"/>
<text x="585.6" y="554.5" font-size="21" font-weight="bold" text-anchor="end" fill="#000" >0.5</text>
<line x1="589.0" x2="592.0" y1="613.5" y2="613.5" stroke="#222" stroke-width="1.1"/>
<text x="585.6" y="621.9" font-size="21" font-weight="bold" text-anchor="end" fill="#000" >0.0</text>
<line x1="589.0" x2="592.0" y1="680.9" y2="680.9" stroke="#222" stroke-width="1.1"/>
<text x="585.6" y="689.3" font-size="21" font-weight="bold" text-anchor="end" fill="#000" >-0.5</text>
<line x1="589.0" x2="592.0" y1="748.3" y2="748.3" stroke="#222" stroke-width="1.1"/>
<text x="585.6" y="756.7" font-size="21" font-weight="bold" text-anchor="end" fill="#000" >-1.0</text>
<line x1="606.7" x2="606.7" y1="761.6" y2="764.4" stroke="#222" stroke-width="1.1"/>
<text x="606.2" y="784.6" font-size="21" font-weight="bold" text-anchor="middle" fill="#000" >-1.0</text>
<line x1="674.1" x2="674.1" y1="761.6" y2="764.4" stroke="#222" stroke-width="1.1"/>
<text x="673.6" y="784.6" font-size="21" font-weight="bold" text-anchor="middle" fill="#000" >-0.5</text>
<line x1="741.5" x2="741.5" y1="761.6" y2="764.4" stroke="#222" stroke-width="1.1"/>
<text x="741.0" y="784.6" font-size="21" font-weight="bold" text-anchor="middle" fill="#000" >0.0</text>
<line x1="808.9" x2="808.9" y1="761.6" y2="764.4" stroke="#222" stroke-width="1.1"/>
<text x="808.4" y="784.6" font-size="21" font-weight="bold" text-anchor="middle" fill="#000" >0.5</text>
<line x1="876.3" x2="876.3" y1="761.6" y2="764.4" stroke="#222" stroke-width="1.1"/>
<text x="876.8" y="784.6" font-size="21" font-weight="bold" text-anchor="middle" fill="#000" >1.0</text>
<line x1="741.5" y1="613.5" x2="737.2" y2="487.4" stroke="#BC713D" stroke-width="0.95"/>
<polyline points="740.9,493.8 737.2,487.4 734.0,494.0" fill="none" stroke="#BC713D" stroke-width="0.95"/>
<line x1="741.5" y1="613.5" x2="767.7" y2="517.4" stroke="#D0B23F" stroke-width="0.95"/>
<polyline points="769.3,524.6 767.7,517.4 762.6,522.8" fill="none" stroke="#D0B23F" stroke-width="0.95"/>
<line x1="741.5" y1="613.5" x2="822.5" y2="529.7" stroke="#C9963F" stroke-width="0.95"/>
<polyline points="820.5,536.8 822.5,529.7 815.5,532.0" fill="none" stroke="#C9963F" stroke-width="0.95"/>
<line x1="741.5" y1="613.5" x2="839.6" y2="537.2" stroke="#C48344" stroke-width="0.95"/>
<polyline points="836.6,544.0 839.6,537.2 832.3,538.5" fill="none" stroke="#C48344" stroke-width="0.95"/>
<line x1="741.5" y1="613.5" x2="833.0" y2="565.7" stroke="#D1B44F" stroke-width="0.95"/>
<polyline points="828.8,571.8 833.0,565.7 825.6,565.6" fill="none" stroke="#D1B44F" stroke-width="0.95"/>
<line x1="741.5" y1="613.5" x2="848.4" y2="569.6" stroke="#CA9F32" stroke-width="0.95"/>
<polyline points="843.7,575.3 848.4,569.6 841.0,568.9" fill="none" stroke="#CA9F32" stroke-width="0.95"/>
<line x1="741.5" y1="613.5" x2="863.3" y2="586.1" stroke="#BC793F" stroke-width="0.95"/>
<polyline points="857.7,590.9 863.3,586.1 856.2,584.1" fill="none" stroke="#BC793F" stroke-width="0.95"/>
<line x1="741.5" y1="613.5" x2="851.7" y2="608.7" stroke="#D29F3F" stroke-width="0.95"/>
<polyline points="845.3,612.5 851.7,608.7 845.0,605.5" fill="none" stroke="#D29F3F" stroke-width="0.95"/>
<line x1="741.5" y1="613.5" x2="778.7" y2="599.2" stroke="#459EB4" stroke-width="0.95"/>
<polyline points="773.8,604.8 778.7,599.2 771.4,598.3" fill="none" stroke="#459EB4" stroke-width="0.95"/>
<line x1="741.5" y1="613.5" x2="779.3" y2="615.0" stroke="#409CB8" stroke-width="0.95"/>
<polyline points="772.6,618.2 779.3,615.0 772.9,611.3" fill="none" stroke="#409CB8" stroke-width="0.95"/>
<line x1="741.5" y1="613.5" x2="744.0" y2="568.8" stroke="#459EA9" stroke-width="0.95"/>
<polyline points="747.1,575.5 744.0,568.8 740.2,575.1" fill="none" stroke="#459EA9" stroke-width="0.95"/>
<line x1="741.5" y1="613.5" x2="710.5" y2="593.1" stroke="#479EB6" stroke-width="0.95"/>
<polyline points="717.9,593.8 710.5,593.1 714.0,599.6" fill="none" stroke="#479EB6" stroke-width="0.95"/>
<line x1="741.5" y1="613.5" x2="677.8" y2="592.4" stroke="#84A591" stroke-width="0.95"/>
<polyline points="685.1,591.2 677.8,592.4 682.9,597.8" fill="none" stroke="#84A591" stroke-width="0.95"/>
<line x1="741.5" y1="613.5" x2="678.2" y2="594.4" stroke="#88A68F" stroke-width="0.95"/>
<polyline points="685.5,593.0 678.2,594.4 683.5,599.6" fill="none" stroke="#88A68F" stroke-width="0.95"/>
<line x1="741.5" y1="613.5" x2="679.0" y2="596.6" stroke="#8FA88B" stroke-width="0.95"/>
<polyline points="686.2,595.0 679.0,596.6 684.4,601.7" fill="none" stroke="#8FA88B" stroke-width="0.95"/>
<line x1="741.5" y1="613.5" x2="635.3" y2="604.7" stroke="#C99E31" stroke-width="0.95"/>
<polyline points="642.1,601.8 635.3,604.7 641.5,608.7" fill="none" stroke="#C99E31" stroke-width="0.95"/>
<line x1="741.5" y1="613.5" x2="844.0" y2="649.7" stroke="#CA973F" stroke-width="0.95"/>
<polyline points="836.7,650.8 844.0,649.7 839.0,644.2" fill="none" stroke="#CA973F" stroke-width="0.95"/>
<line x1="741.5" y1="613.5" x2="857.2" y2="668.4" stroke="#C38044" stroke-width="0.95"/>
<polyline points="849.8,668.7 857.2,668.4 852.8,662.5" fill="none" stroke="#C38044" stroke-width="0.95"/>
<line x1="741.5" y1="613.5" x2="848.0" y2="673.4" stroke="#C17334" stroke-width="0.95"/>
<polyline points="840.6,673.2 848.0,673.4 844.0,667.2" fill="none" stroke="#C17334" stroke-width="0.95"/>
<line x1="741.5" y1="613.5" x2="848.8" y2="674.2" stroke="#C36F2E" stroke-width="0.95"/>
<polyline points="841.4,674.0 848.8,674.2 844.8,668.0" fill="none" stroke="#C36F2E" stroke-width="0.95"/>
<line x1="741.5" y1="613.5" x2="771.0" y2="678.7" stroke="#9DAC87" stroke-width="0.95"/>
<polyline points="765.1,674.2 771.0,678.7 771.5,671.3" fill="none" stroke="#9DAC87" stroke-width="0.95"/>
<line x1="741.5" y1="613.5" x2="755.7" y2="736.2" stroke="#BC793F" stroke-width="0.95"/>
<polyline points="751.5,730.1 755.7,736.2 758.4,729.3" fill="none" stroke="#BC793F" stroke-width="0.95"/>
<line x1="741.5" y1="613.5" x2="722.3" y2="710.1" stroke="#CBB43F" stroke-width="0.95"/>
<polyline points="720.2,703.0 722.3,710.1 727.0,704.4" fill="none" stroke="#CBB43F" stroke-width="0.95"/>
<text x="700.1" y="487.4" font-size="21.6" font-weight="normal" text-anchor="start" fill="#000" textLength="26.8" lengthAdjust="spacing" >RP</text>
<text x="726.3" y="488.2" font-size="12" font-weight="normal" text-anchor="start" fill="#000" textLength="10.6" lengthAdjust="spacingAndGlyphs" >M</text>
<text x="751.4" y="511.1" font-size="21.6" font-weight="normal" text-anchor="start" fill="#000" textLength="28.4" lengthAdjust="spacing" >RN</text>
<text x="779.2" y="511.9" font-size="12" font-weight="normal" text-anchor="start" fill="#000" textLength="10.6" lengthAdjust="spacingAndGlyphs" >M</text>
<text x="801.4" y="525.3" font-size="21.6" font-weight="normal" text-anchor="start" fill="#000" textLength="26.8" lengthAdjust="spacing" >RP</text>
<text x="827.6" y="526.1" font-size="12" font-weight="normal" text-anchor="start" fill="#000" textLength="7.6" lengthAdjust="spacingAndGlyphs" >L</text>
<text x="843.5" y="537.9" font-size="21.6" font-weight="normal" text-anchor="start" fill="#000" textLength="26.8" lengthAdjust="spacing" >RP</text>
<text x="869.7" y="538.7" font-size="12" font-weight="normal" text-anchor="start" fill="#000" textLength="8.3" lengthAdjust="spacingAndGlyphs" >S</text>
<text x="831.4" y="561.6" font-size="21.6" font-weight="normal" text-anchor="start" fill="#000" textLength="26.8" lengthAdjust="spacing" >RP</text>
<text x="857.6" y="562.4" font-size="12" font-weight="normal" text-anchor="start" fill="#000" textLength="8.2" lengthAdjust="spacingAndGlyphs" >V</text>
<text x="852.7" y="580.0" font-size="21.6" font-weight="normal" text-anchor="start" fill="#000" textLength="28.4" lengthAdjust="spacing" >RN</text>
<text x="880.5" y="580.8" font-size="12" font-weight="normal" text-anchor="start" fill="#000" textLength="7.1" lengthAdjust="spacingAndGlyphs" >L</text>
<text x="866.1" y="598.6" font-size="21.6" font-weight="normal" text-anchor="start" fill="#000" textLength="28.4" lengthAdjust="spacing" >RN</text>
<text x="893.9" y="599.4" font-size="12" font-weight="normal" text-anchor="start" fill="#000" textLength="8.3" lengthAdjust="spacingAndGlyphs" >S</text>
<text x="854.9" y="617.4" font-size="21.6" font-weight="normal" text-anchor="start" fill="#000" textLength="28.4" lengthAdjust="spacing" >RN</text>
<text x="882.7" y="618.2" font-size="12" font-weight="normal" text-anchor="start" fill="#000" textLength="8.2" lengthAdjust="spacingAndGlyphs" >V</text>
<text x="780.4" y="599.7" font-size="21.6" font-weight="normal" text-anchor="start" fill="#000" textLength="39.9" lengthAdjust="spacing" >RCa</text>
<text x="782.6" y="624.9" font-size="21.6" font-weight="normal" text-anchor="start" fill="#000" textLength="28.4" lengthAdjust="spacing" >RC</text>
<text x="810.4" y="625.7" font-size="12" font-weight="normal" text-anchor="start" fill="#000" textLength="10.6" lengthAdjust="spacingAndGlyphs" >M</text>
<text x="727.5" y="562.6" font-size="21.6" font-weight="normal" text-anchor="start" fill="#000" textLength="41.7" lengthAdjust="spacing" >RAD</text>
<text x="662.4" y="567.0" font-size="21.6" font-weight="normal" text-anchor="start" fill="#000" textLength="31.3" lengthAdjust="spacing" >RAl</text>
<text x="645.3" y="582.3" font-size="21.6" font-weight="normal" text-anchor="start" fill="#000" textLength="27.6" lengthAdjust="spacing" >RK</text>
<text x="636.5" y="601.0" font-size="21.6" font-weight="normal" text-anchor="start" fill="#000" textLength="37.5" lengthAdjust="spacing" >RFe</text>
<text x="595.5" y="610.8" font-size="21.6" font-weight="normal" text-anchor="start" fill="#000" textLength="38.6" lengthAdjust="spacing" >SRL</text>
<text x="695.7" y="590.5" font-size="21.6" font-weight="normal" text-anchor="start" fill="#000" textLength="41.9" lengthAdjust="spacing" >RMg</text>
<text x="844.6" y="651.3" font-size="21.6" font-weight="normal" text-anchor="start" fill="#000" textLength="28.4" lengthAdjust="spacing" >RC</text>
<text x="872.4" y="652.1" font-size="12" font-weight="normal" text-anchor="start" fill="#000" textLength="7.4" lengthAdjust="spacingAndGlyphs" >L</text>
<text x="859.3" y="671.0" font-size="21.6" font-weight="normal" text-anchor="start" fill="#000" textLength="28.4" lengthAdjust="spacing" >RC</text>
<text x="887.1" y="671.8" font-size="12" font-weight="normal" text-anchor="start" fill="#000" textLength="8.3" lengthAdjust="spacingAndGlyphs" >S</text>
<text x="852.9" y="692.3" font-size="21.6" font-weight="normal" text-anchor="start" fill="#000" textLength="28.4" lengthAdjust="spacing" >RC</text>
<text x="880.7" y="693.1" font-size="12" font-weight="normal" text-anchor="start" fill="#000" textLength="8.2" lengthAdjust="spacingAndGlyphs" >V</text>
<text x="811.7" y="693.6" font-size="21.6" font-weight="normal" text-anchor="start" fill="#000" textLength="39.7" lengthAdjust="spacing" >RTD</text>
<text x="756.5" y="699.5" font-size="21.6" font-weight="normal" text-anchor="start" fill="#000" textLength="46.0" lengthAdjust="spacing" >RN:P</text>
<text x="748.1" y="756.5" font-size="21.6" font-weight="normal" text-anchor="start" fill="#000" textLength="45.2" lengthAdjust="spacing" >RC:P</text>
<text x="688.2" y="728.9" font-size="21.6" font-weight="normal" text-anchor="start" fill="#000" textLength="47.7" lengthAdjust="spacing" >RC:N</text>
<text x="676.0" y="811.7" font-size="24.5" font-weight="bold" text-anchor="start" fill="#000" textLength="119.4" lengthAdjust="spacingAndGlyphs" >PC1 32.98</text>
<text x="808.9" y="811.7" font-size="24.5" font-weight="bold" text-anchor="start" fill="#000" textLength="18.1" lengthAdjust="spacingAndGlyphs" >%</text>
<text transform="translate(534.4,688.6) rotate(-90)" font-size="25.8" font-weight="bold" textLength="152.0" lengthAdjust="spacingAndGlyphs">PC2 20.89&#160;&#160;%</text>
<rect x="931" y="572.3" width="23" height="114.5" fill="url(#cbar)"/>
<line x1="931" x2="935.6" y1="594.9" y2="594.9" stroke="#fff" stroke-width="1"/>
<line x1="949.4" x2="954" y1="594.9" y2="594.9" stroke="#fff" stroke-width="1"/>
<text x="963.4" y="602.1" font-size="19.8" font-weight="normal" text-anchor="start" fill="#000" >6</text>
<line x1="931" x2="935.6" y1="628.5" y2="628.5" stroke="#fff" stroke-width="1"/>
<line x1="949.4" x2="954" y1="628.5" y2="628.5" stroke="#fff" stroke-width="1"/>
<text x="963.4" y="635.7" font-size="19.8" font-weight="normal" text-anchor="start" fill="#000" >4</text>
<line x1="931" x2="935.6" y1="663.0" y2="663.0" stroke="#fff" stroke-width="1"/>
<line x1="949.4" x2="954" y1="663.0" y2="663.0" stroke="#fff" stroke-width="1"/>
<text x="963.4" y="670.2" font-size="19.8" font-weight="normal" text-anchor="start" fill="#000" >2</text>
<path d="M916.2 473.6L929.0 499.2L903.4 499.2Z" fill="#F41A1A"/>
<path d="M916.2 790.4L929.0 764.2L903.4 764.2Z" fill="#F41A1A"/>
<line x1="916.2" x2="916.2" y1="498.8" y2="632" stroke="url(#vfade)" stroke-width="2.7" stroke-dasharray="14 3.65"/>
<line x1="916.2" x2="916.2" y1="764.6" y2="632" stroke="url(#vfade)" stroke-width="2.7" stroke-dasharray="14 3.65"/>
<text x="932.8" y="493.6" font-size="18.5" font-weight="normal" text-anchor="start" fill="#000" textLength="35.2" lengthAdjust="spacingAndGlyphs" >Fast</text>
<text x="925.5" y="748.4" font-size="18.5" font-weight="normal" text-anchor="start" fill="#000" textLength="39.5" lengthAdjust="spacingAndGlyphs" >Slow</text>
</svg></body></html>
